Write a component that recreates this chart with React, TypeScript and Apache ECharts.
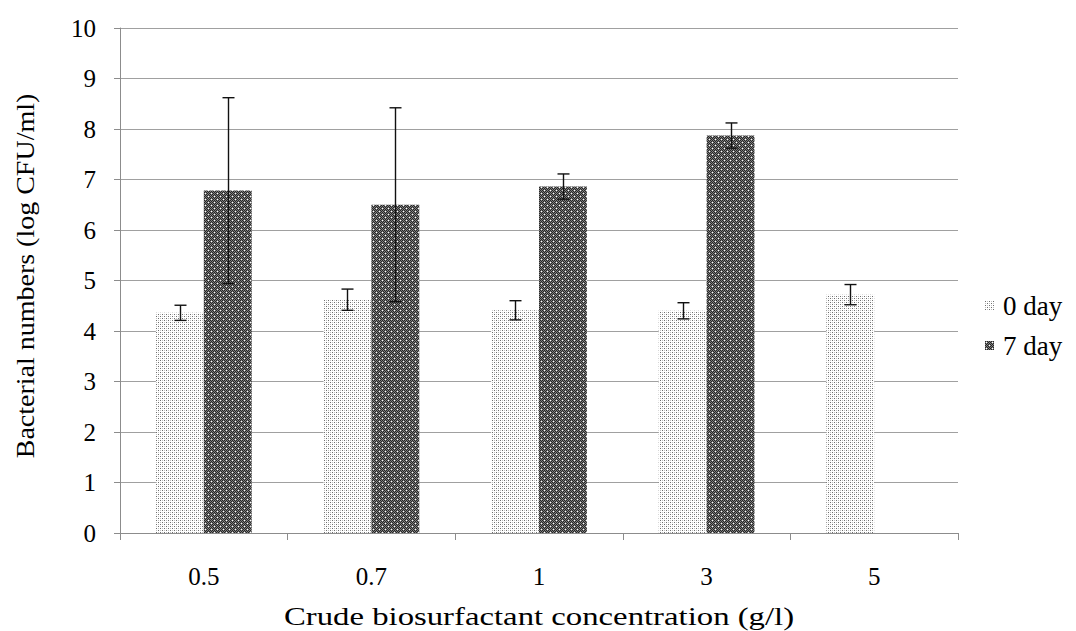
import React, { useEffect, useRef } from "react";
import * as echarts from "echarts";

const categories = ["0.5", "0.7", "1", "3", "5"];
const day0Values = [4.36, 4.62, 4.41, 4.4, 4.72];
const day0Errors = [0.15, 0.21, 0.19, 0.16, 0.2];
const day7Values: (number | null)[] = [6.78, 6.5, 6.86, 7.87, null];
const day7Errors: (number | null)[] = [1.84, 1.92, 0.25, 0.25, null];
const yTicks = [0, 1, 2, 3, 4, 5, 6, 7, 8, 9, 10];
const seriesNames = ["0 day", "7 day"];
const xTitle = "Crude biosurfactant concentration (g/l)";
const yTitle = "Bacterial numbers (log CFU/ml)";

const FONT = "'Liberation Serif', 'Times New Roman', serif";

function makePattern(kind: "light" | "dark"): HTMLCanvasElement {
  const c = document.createElement("canvas");
  const ctx = c.getContext("2d")!;
  if (kind === "light") {
    c.width = 4;
    c.height = 4;
    ctx.fillStyle = "#ffffff";
    ctx.fillRect(0, 0, 4, 4);
    ctx.fillStyle = "#6e6e6e";
    ctx.fillRect(0, 0, 1, 1);
    ctx.fillRect(2, 2, 1, 1);
    ctx.fillStyle = "#c0c0c0";
    ctx.fillRect(2, 0, 1, 1);
    ctx.fillRect(0, 2, 1, 1);
  } else {
    c.width = 6;
    c.height = 6;
    for (let y = 0; y < 6; y++) {
      for (let x = 0; x < 6; x++) {
        ctx.fillStyle = (x + y) % 2 === 0 ? "#262626" : "#7e7e7e";
        ctx.fillRect(x, y, 1, 1);
      }
    }
    ctx.fillStyle = "#ffffff";
    ctx.fillRect(1, 1, 1, 1);
    ctx.fillRect(4, 4, 1, 1);
  }
  return c;
}

export default function App() {
  const ref = useRef<HTMLDivElement>(null);

  useEffect(() => {
    if (!ref.current) return;
    const chart = echarts.init(ref.current, undefined, { renderer: "svg" });
    const lightPat = { image: makePattern("light"), repeat: "repeat" };
    const darkPat = { image: makePattern("dark"), repeat: "repeat" };

    const errData: any[] = [];
    day0Values.forEach((v, i) => {
      errData.push([i, v, day0Errors[i], -1]);
    });
    day7Values.forEach((v, i) => {
      if (v != null && day7Errors[i] != null) errData.push([i, v, day7Errors[i], 1]);
    });

    const option: any = {
      animation: false,
      backgroundColor: "#ffffff",
      textStyle: { fontFamily: FONT },
      grid: { left: 120, right: 118, top: 28, bottom: 98, containLabel: false },
      legend: {
        orient: "vertical",
        left: 980,
        top: 287,
        itemWidth: 9,
        itemHeight: 9,
        itemGap: 13,
        icon: "rect",
        data: seriesNames,
        textStyle: { fontFamily: FONT, fontSize: 27, color: "#000", padding: [0, 0, 0, 4] },
      },
      graphic: [
        {
          type: "text",
          x: 539,
          y: 616,
          scaleX: 1.26,
          style: {
            text: xTitle,
            font: `26px ${FONT}`,
            fill: "#000",
            textAlign: "center",
            textVerticalAlign: "middle",
          },
        },
        {
          type: "text",
          x: 26,
          y: 276,
          rotation: Math.PI / 2,
          scaleX: 1.12,
          style: {
            text: yTitle,
            font: `25px ${FONT}`,
            fill: "#000",
            textAlign: "center",
            textVerticalAlign: "middle",
          },
        },
      ],
      xAxis: {
        type: "category",
        data: categories,
        axisLine: { lineStyle: { color: "#8c8c8c", width: 1 } },
        axisTick: { show: true, length: 7, lineStyle: { color: "#8c8c8c" }, alignWithLabel: false },
        axisLabel: { fontFamily: FONT, fontSize: 25, color: "#000", margin: 31 },
        splitLine: { show: false },
      },
      yAxis: {
        type: "value",
        min: yTicks[0],
        max: yTicks[yTicks.length - 1],
        interval: 1,
        axisLine: { show: true, lineStyle: { color: "#8c8c8c", width: 1 } },
        axisTick: { show: true, length: 6, inside: false, lineStyle: { color: "#8c8c8c" } },
        axisLabel: { fontFamily: FONT, fontSize: 25, color: "#000", margin: 24 },
        splitLine: { show: true, lineStyle: { color: "#a0a0a0", width: 1 } },
      },
      series: [
        {
          name: seriesNames[0],
          type: "bar",
          data: day0Values,
          barGap: "0%",
          barCategoryGap: "42.86%",
          itemStyle: { color: lightPat },
          z: 2,
        },
        {
          name: seriesNames[1],
          type: "bar",
          data: day7Values,
          barGap: "0%",
          barCategoryGap: "42.86%",
          itemStyle: { color: darkPat },
          z: 2,
        },
        {
          name: "errors",
          type: "custom",
          data: errData,
          z: 5,
          silent: true,
          renderItem: (params: any, api: any) => {
            const idx = api.value(0);
            const val = api.value(1);
            const err = api.value(2);
            const side = api.value(3);
            const catW = api.size([1, 0])[0];
            const offset = side * catW * 0.142857;
            const top = api.coord([idx, val + err]);
            const bot = api.coord([idx, val - err]);
            const x = Math.round(top[0] + offset) + 0.5;
            const cap = 6;
            const style = { stroke: "#111111", lineWidth: 1.4 };
            return {
              type: "group",
              children: [
                { type: "line", shape: { x1: x, y1: top[1], x2: x, y2: bot[1] }, style },
                { type: "line", shape: { x1: x - cap, y1: top[1], x2: x + cap, y2: top[1] }, style },
                { type: "line", shape: { x1: x - cap, y1: bot[1], x2: x + cap, y2: bot[1] }, style },
              ],
            };
          },
        },
      ],
    };
    chart.setOption(option);
    return () => chart.dispose();
  }, []);

  return <div ref={ref} style={{ width: 1076, height: 631, position: "absolute", left: 0, top: 0 }} />;
}
